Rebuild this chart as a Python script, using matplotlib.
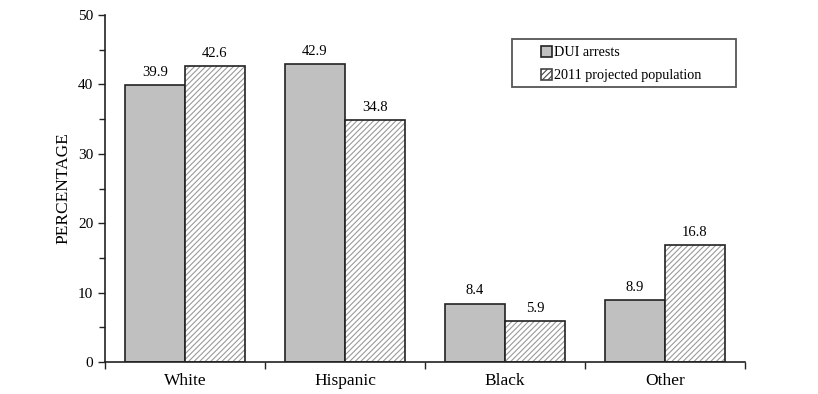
import matplotlib
matplotlib.use("Agg")
import matplotlib.pyplot as plt
import numpy as np
from matplotlib.ticker import MultipleLocator, FixedLocator
from matplotlib.patches import Rectangle

categories = ["White", "Hispanic", "Black", "Other"]
dui_arrests = [39.9, 42.9, 8.4, 8.9]
projected_pop = [42.6, 34.8, 5.9, 16.8]
series_labels = ["DUI arrests", "2011 projected population"]

plt.rcParams['font.family'] = ['Liberation Serif', 'DejaVu Serif']
plt.rcParams['hatch.linewidth'] = 0.8

W, H = 818, 394
fig = plt.figure(figsize=(W/100, H/100), dpi=100)
ax = fig.add_axes([105/W, 1-362/H, 640/W, 347/H])

x = np.arange(len(categories))
w = 0.375
b1 = ax.bar(x - w/2, dui_arrests, w, color='#c0c0c0', edgecolor='#222222', linewidth=1.2,
            label=series_labels[0])
# hatch layer (hatch colour follows edgecolor), then a black outline on top
ax.bar(x + w/2, projected_pop, w, color='white', edgecolor='#9a9a9a', linewidth=0,
       hatch='//////')
b2 = ax.bar(x + w/2, projected_pop, w, fill=False, edgecolor='#222222', linewidth=1.2)

for rect, v in zip(list(b1) + list(b2), dui_arrests + projected_pop):
    ax.text(rect.get_x() + rect.get_width()/2, v + 0.9, f"{v:.1f}",
            ha='center', va='bottom', fontsize=10.5)

ax.set_xlim(-0.5, len(categories) - 0.5)
ax.set_ylim(0, 50)
ax.yaxis.set_major_locator(MultipleLocator(10))
ax.yaxis.set_minor_locator(MultipleLocator(5))
ax.xaxis.set_major_locator(FixedLocator(np.arange(len(categories) + 1) - 0.5))
ax.xaxis.set_minor_locator(FixedLocator(x))
ax.set_xticklabels([], minor=False)
ax.set_xticklabels(categories, minor=True, fontsize=12.5)
ax.tick_params(axis='x', which='major', direction='out', length=5, width=1, color='#222222')
ax.tick_params(axis='x', which='minor', length=0, pad=8)
ax.tick_params(axis='y', which='both', direction='out', width=1, color='#222222', labelsize=11)
ax.tick_params(axis='y', which='major', length=5)
ax.tick_params(axis='y', which='minor', length=4)

for s in ['top', 'right']:
    ax.spines[s].set_visible(False)
for s in ['left', 'bottom']:
    ax.spines[s].set_linewidth(1.2)
    ax.spines[s].set_color('#222222')

ax.set_ylabel("PERCENTAGE", fontsize=12.5, labelpad=5)

# legend handles
h1 = Rectangle((0, 0), 1, 1, facecolor='#c0c0c0', edgecolor='#222222', linewidth=1.2)
h2 = Rectangle((0, 0), 1, 1, facecolor='white', edgecolor='#444444', linewidth=1.2,
               hatch='//////')

# legend frame
fig.patches.append(Rectangle((512/W, 1-87/H), (736-512)/W, (87-39)/H,
                             transform=fig.transFigure, facecolor='white',
                             edgecolor='#555555', linewidth=1.3, zorder=5))
leg = fig.legend(handles=[h1, h2], labels=series_labels, loc='upper left',
                 bbox_to_anchor=(537/W, 1-42/H), frameon=False, fontsize=10.2,
                 handlelength=0.75, handleheight=0.75, handletextpad=0.15,
                 borderpad=0.3, labelspacing=0.7, borderaxespad=0)
leg.set_zorder(6)

fig.savefig("out.png", dpi=100)
